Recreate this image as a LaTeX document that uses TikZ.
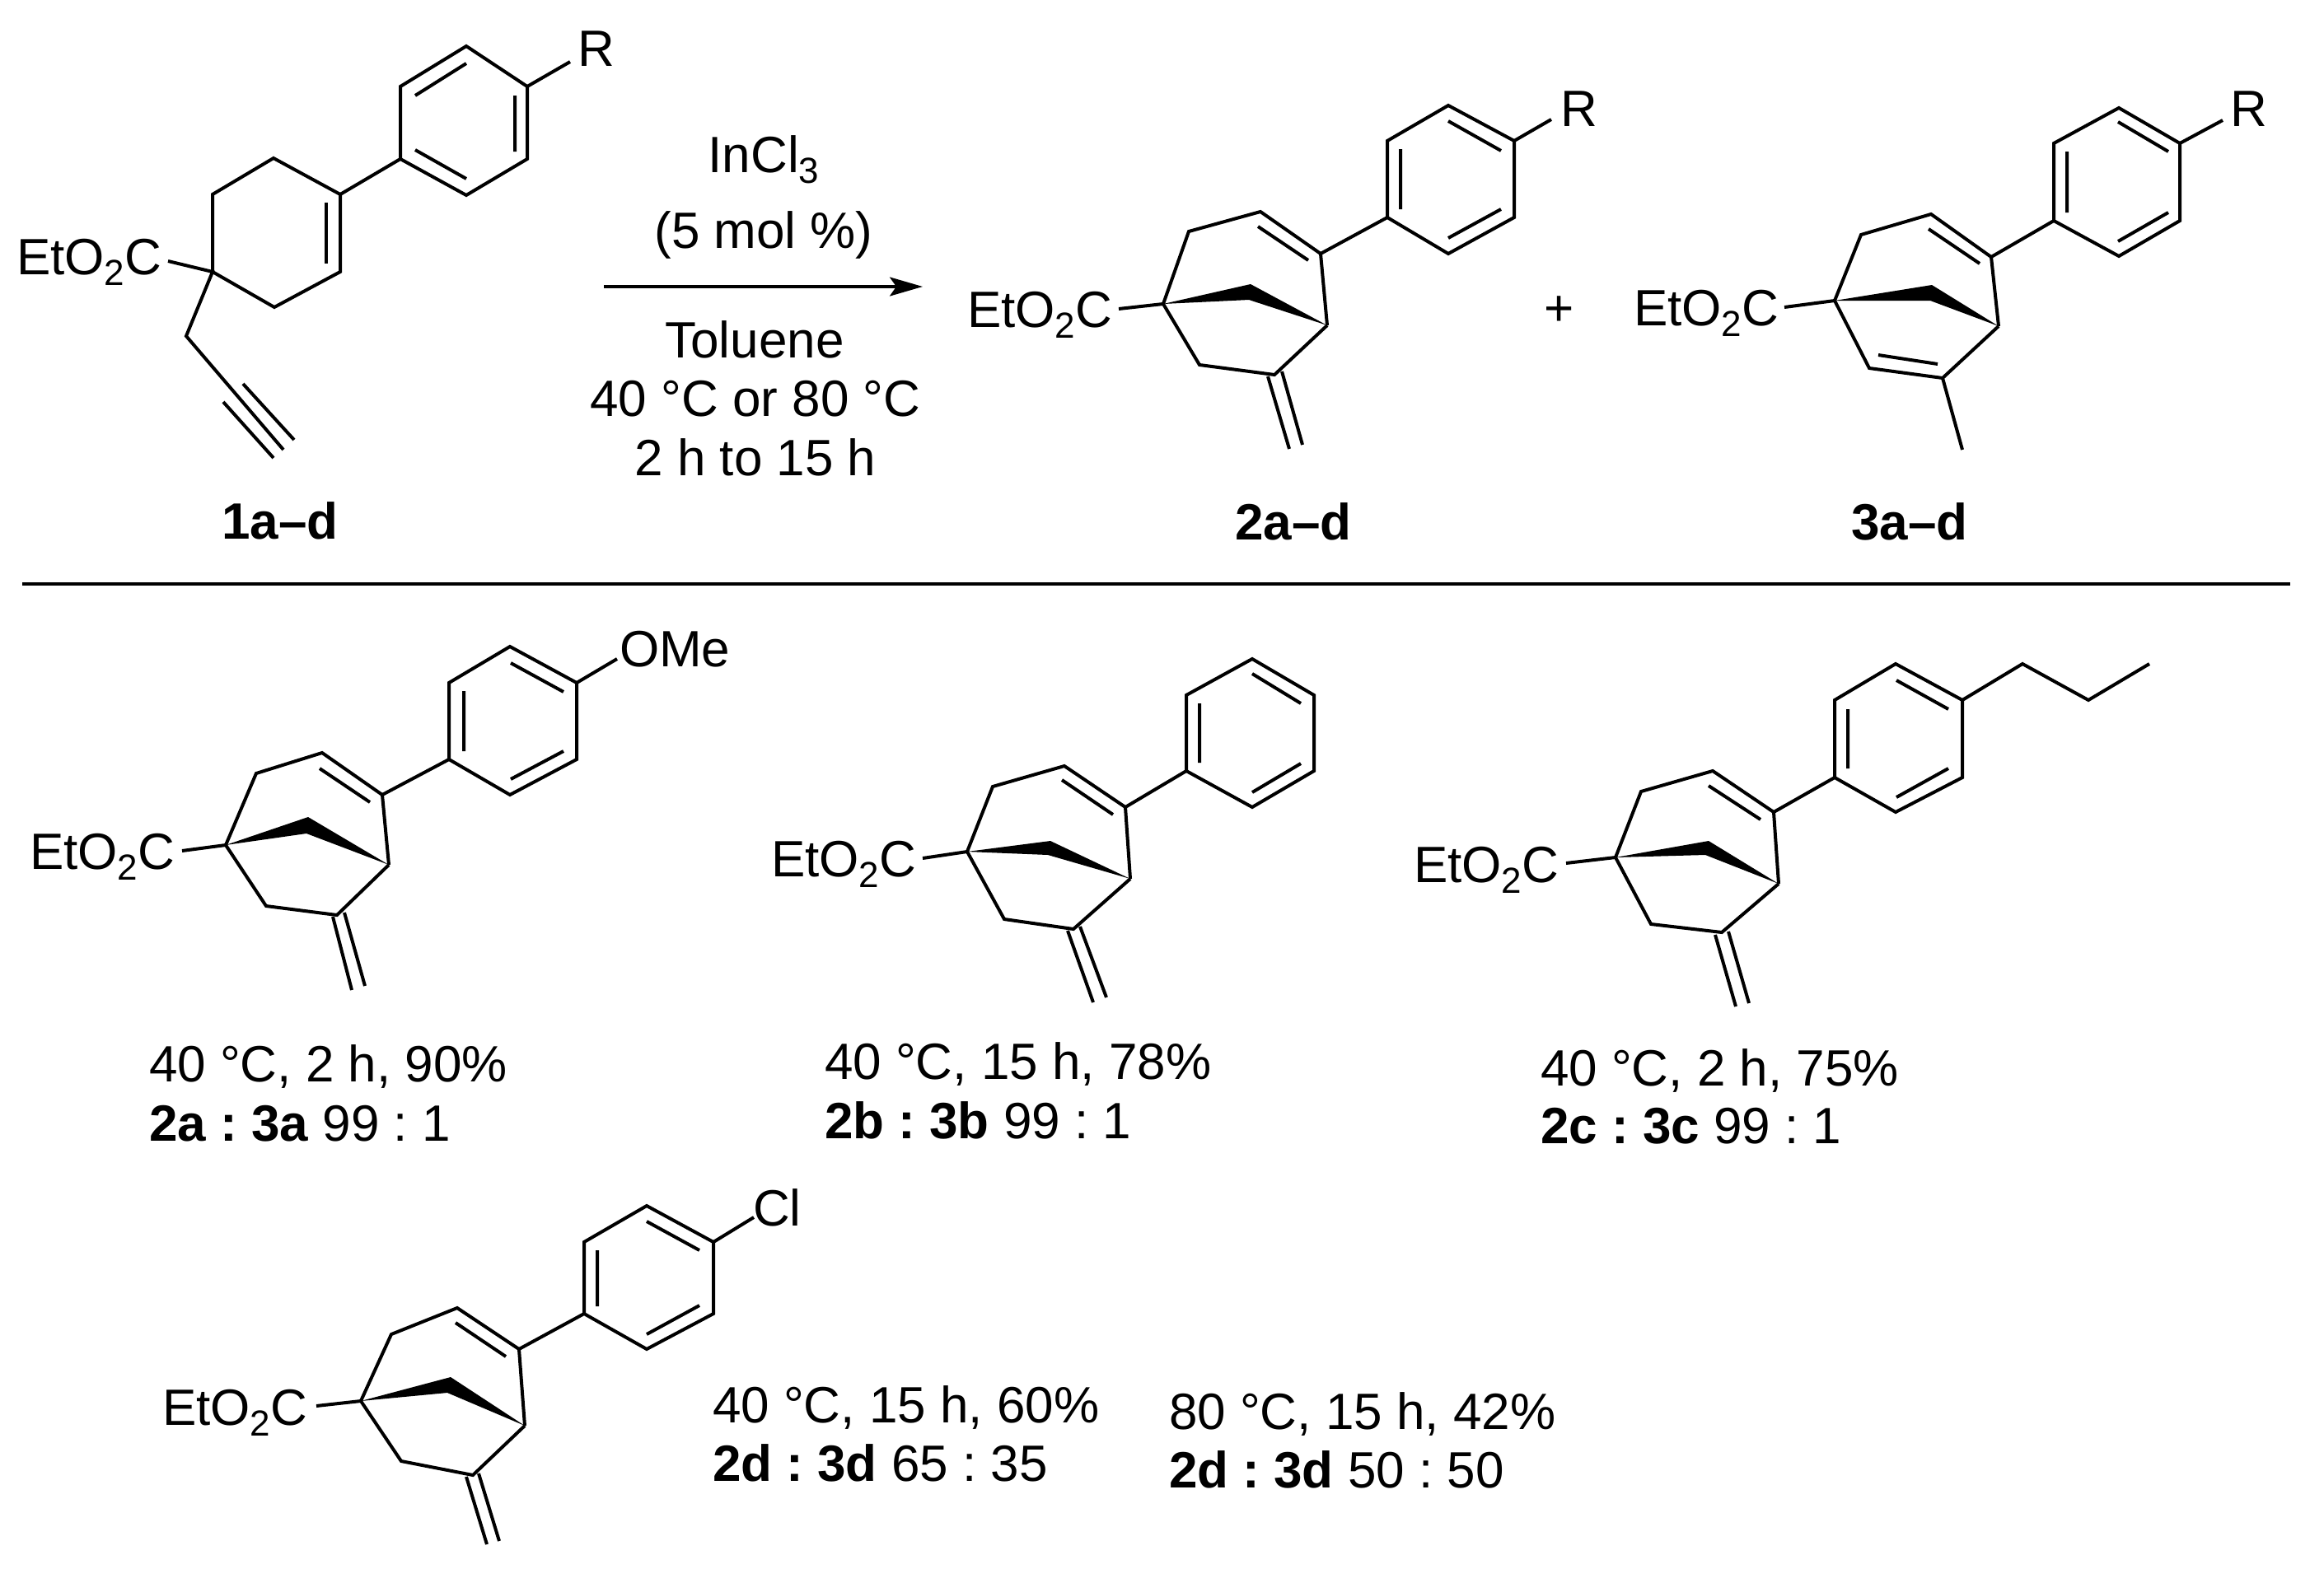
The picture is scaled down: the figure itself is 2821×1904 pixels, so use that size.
\documentclass[tikz,border=0pt]{standalone}
\usepackage{fontspec}
\setmainfont{Liberation Sans}
\usetikzlibrary{arrows.meta}
\newcommand{\subn}[1]{\raisebox{-13pt}{\fontsize{44}{44}\selectfont #1}}
\newcommand{\ester}{EtO\subn{2}C}
\frenchspacing
\tikzset{
  bond/.style={line width=4pt,line join=miter,line cap=butt,black},
  lab/.style={anchor=base west,inner sep=0pt,outer sep=0pt,font=\fontsize{62}{70}\selectfont},
  cen/.style={anchor=base,inner sep=0pt,outer sep=0pt,font=\fontsize{62}{70}\selectfont},
  cpd/.style={anchor=base,inner sep=0pt,outer sep=0pt,font=\fontsize{62}{70}\selectfont\bfseries}
}
% bicyclic skeleton: q,a,b,c,d,e,f ring atoms; t,u wedge apex points
\newcommand{\skel}[1]{%
  \fill[black] (#1q)--(#1t)--(#1d)--(#1u)--cycle;
  \draw[bond] (#1d)--(#1e)--(#1f)--(#1q)--(#1a)--(#1b)--(#1c)--(#1d);
}
% para-phenyl ring: i,o1,m1,p,m2,o2 atoms, attached at the ring atom in #2
\newcommand{\arene}[2]{%
  \draw[bond] (#2)--(#1i)--(#1o)--(#1m)--(#1p)--(#1n)--(#1k)--(#1i);
}
\begin{document}
\begin{tikzpicture}[x=1pt,y=-1pt]
\useasboundingbox (0,0) rectangle (2821,1904);

% ---------- compound 1
\path (258,330) coordinate (Aq) (258,236) coordinate (Aa) (332,192) coordinate (Ab)
      (413,236) coordinate (Ac) (413,330) coordinate (Ad) (333,373) coordinate (Ae)
      (226,408) coordinate (Ag) (344,546) coordinate (Ah) (204,317) coordinate (Ax);
\path (486,193) coordinate (Ai) (486,105) coordinate (Ao) (566,56) coordinate (Am)
      (640,105) coordinate (Ap) (640,193) coordinate (An) (566,237) coordinate (Ak)
      (692,75) coordinate (Ar);
\draw[bond] (Aq)--(Aa)--(Ab)--(Ac)--(Ad)--(Ae)--(Aq);
\draw[bond] (396,246)--(396,320);
\arene{A}{Ac}
\draw[bond] (504,116)--(566,77) (625,116)--(625,184) (504,182)--(566,217);
\draw[bond] (Ap)--(Ar) (Ax)--(Aq)--(Ag)--(Ah);
\draw[bond] (271,488)--(332,556) (295,466)--(357,534);
\node[lab] (lA) at (20,333) {\ester};
\node[lab] (rA) at (701,80) {R};
\node[cpd] (n1) at (340,654) {1a–d};

% ---------- conditions
\coordinate (arrS) at (733,348);
\coordinate (arrE) at (1120,348);
\draw[line width=3.4pt,-{Stealth[length=40pt,width=23pt,inset=8pt]}] (arrS)--(arrE);
\node[cen] (c1) at (927,209) {InCl\subn{3}};
\node[cen] (c2) at (927,301) {(5 mol \%)};
\node[cen] (c3) at (916,434) {Toluene};
\node[cen] (c4) at (917,505) {40 °C or 80 °C};
\node[cen] (c5) at (917,577) {2 h to 15 h};

% ---------- compound 2
\path (1412,369) coordinate (Bq) (1443,281) coordinate (Ba) (1530,257) coordinate (Bb)
      (1603,308) coordinate (Bc) (1611,395) coordinate (Bd) (1547,455) coordinate (Be)
      (1456,443) coordinate (Bf) (1518,345) coordinate (Bt) (1516,364) coordinate (Bu)
      (1358,375) coordinate (Bx) (1883,145) coordinate (Br);
\path (1684,264) coordinate (Bi) (1684,171) coordinate (Bo) (1758,128) coordinate (Bm)
      (1838,171) coordinate (Bp) (1838,264) coordinate (Bn) (1758,308) coordinate (Bk);
\skel{B}
\arene{B}{Bc}
\draw[bond] (1527,275)--(1588,316) (1700,181)--(1700,254) (1758,147)--(1822,183) (1758,289)--(1822,254);
\draw[bond] (Bp)--(Br) (Bx)--(Bq);
\draw[bond] (1539,457)--(1565,545) (1556,451)--(1581,540);
\node[lab] (lB) at (1174,397) {\ester};
\node[lab] (rB) at (1894,153) {R};
\node[cpd] (n2) at (1570,655) {2a–d};
\node[cen] (plus) at (1893,395) {+};

% ---------- compound 3
\path (2227,365) coordinate (Cq) (2259,285) coordinate (Ca) (2344,260) coordinate (Cb)
      (2417,312) coordinate (Cc) (2426,396) coordinate (Cd) (2358,459) coordinate (Ce)
      (2269,447) coordinate (Cf) (2345,346) coordinate (Ct) (2343,365) coordinate (Cu)
      (2166,373) coordinate (Cx) (2698,146) coordinate (Cr) (2382,546) coordinate (Cme);
\path (2493,268) coordinate (Ci) (2493,174) coordinate (Co) (2572,131) coordinate (Cm)
      (2646,174) coordinate (Cp) (2646,268) coordinate (Cn) (2572,311) coordinate (Ck);
\skel{C}
\arene{C}{Cc}
\draw[bond] (2341,278)--(2403,320) (2280,431)--(2352,442) (2509,184)--(2509,258) (2571,148)--(2632,184) (2571,293)--(2632,258);
\draw[bond] (Cp)--(Cr) (Cx)--(Cq) (Ce)--(Cme);
\node[lab] (lC) at (1983,395) {\ester};
\node[lab] (rC) at (2707,153) {R};
\node[cpd] (n3) at (2318,655) {3a–d};

% ---------- divider
\coordinate (divL) at (27,709);
\coordinate (divR) at (2780,709);
\draw[line width=3.2pt] (divL)--(divR);

% ---------- a
\path (274,1026) coordinate (Dq) (311,939) coordinate (Da) (391,914) coordinate (Db)
      (464,965) coordinate (Dc) (472,1050) coordinate (Dd) (409,1111) coordinate (De)
      (323,1100) coordinate (Df) (374,992) coordinate (Dt) (372,1012) coordinate (Du)
      (221,1033) coordinate (Dx) (749,800) coordinate (Dr);
\path (545,922) coordinate (Di) (545,829) coordinate (Do) (619,785) coordinate (Dm)
      (700,829) coordinate (Dp) (700,922) coordinate (Dn) (619,965) coordinate (Dk);
\skel{D}
\arene{D}{Dc}
\draw[bond] (388,933)--(449,974) (563,839)--(563,912) (620,805)--(684,840) (620,946)--(684,912);
\draw[bond] (Dp)--(Dr) (Dx)--(Dq);
\draw[bond] (404,1113)--(427,1202) (418,1108)--(443,1197);
\node[lab] (lD) at (36,1055) {\ester};
\node[lab] (rD) at (752,809) {OMe};
\node[lab] (t1a) at (181,1313) {40 °C, 2 h, 90\%};
\node[lab] (t1b) at (181,1385) {\textbf{2a : 3a} 99 : 1};

% ---------- b
\path (1174,1034) coordinate (Eq) (1205,955) coordinate (Ea) (1292,930) coordinate (Eb)
      (1366,980) coordinate (Ec) (1372,1067) coordinate (Ed) (1303,1128) coordinate (Ee)
      (1219,1116) coordinate (Ef) (1275,1021) coordinate (Et) (1272,1038) coordinate (Eu)
      (1120,1042) coordinate (Ex);
\path (1440,936) coordinate (Ei) (1440,844) coordinate (Eo) (1520,800) coordinate (Em)
      (1595,844) coordinate (Ep) (1595,936) coordinate (En) (1520,980) coordinate (Ek);
\skel{E}
\arene{E}{Ec}
\draw[bond] (1289,947)--(1351,989) (1456,854)--(1456,926) (1520,818)--(1579,854) (1520,962)--(1579,927);
\draw[bond] (Ex)--(Eq);
\draw[bond] (1296,1130)--(1327,1217) (1311,1125)--(1343,1211);
\node[lab] (lE) at (936,1064) {\ester};
\node[lab] (t2a) at (1001,1310) {40 °C, 15 h, 78\%};
\node[lab] (t2b) at (1001,1382) {\textbf{2b : 3b} 99 : 1};

% ---------- c
\path (1961,1041) coordinate (Fq) (1992,961) coordinate (Fa) (2079,936) coordinate (Fb)
      (2153,986) coordinate (Fc) (2159,1073) coordinate (Fd) (2090,1132) coordinate (Fe)
      (2004,1122) coordinate (Ff) (2074,1021) coordinate (Ft) (2070,1038) coordinate (Fu)
      (1901,1048) coordinate (Fx);
\path (2227,944) coordinate (Fi) (2227,850) coordinate (Fo) (2301,806) coordinate (Fm)
      (2382,850) coordinate (Fp) (2382,944) coordinate (Fn) (2301,986) coordinate (Fk)
      (2455,806) coordinate (Fy1) (2535,850) coordinate (Fy2) (2609,806) coordinate (Fy3);
\skel{F}
\arene{F}{Fc}
\draw[bond] (2074,954)--(2137,995) (2243,861)--(2243,933) (2302,826)--(2365,861) (2302,968)--(2365,933);
\draw[bond] (Fp)--(Fy1)--(Fy2)--(Fy3) (Fx)--(Fq);
\draw[bond] (2082,1135)--(2107,1222) (2098,1131)--(2123,1218);
\node[lab] (lF) at (1716,1071) {\ester};
\node[lab] (t3a) at (1870,1318) {40 °C, 2 h, 75\%};
\node[lab] (t3b) at (1870,1388) {\textbf{2c : 3c} 99 : 1};

% ---------- d
\path (438,1701) coordinate (Gq) (475,1620) coordinate (Ga) (555,1588) coordinate (Gb)
      (630,1638) coordinate (Gc) (637,1731) coordinate (Gd) (574,1791) coordinate (Ge)
      (487,1774) coordinate (Gf) (547,1672) coordinate (Gt) (543,1691) coordinate (Gu)
      (384,1707) coordinate (Gx) (915,1478) coordinate (Gr);
\path (709,1595) coordinate (Gi) (709,1508) coordinate (Go) (785,1464) coordinate (Gm)
      (866,1508) coordinate (Gp) (866,1595) coordinate (Gn) (785,1638) coordinate (Gk);
\skel{G}
\arene{G}{Gc}
\draw[bond] (553,1606)--(614,1647) (725,1518)--(725,1586) (785,1483)--(849,1518) (785,1620)--(849,1585);
\draw[bond] (Gp)--(Gr) (Gx)--(Gq);
\draw[bond] (566,1793)--(591,1875) (581,1789)--(606,1871);
\node[lab] (lG) at (197,1730) {\ester};
\node[lab] (rG) at (914,1488) {Cl};
\node[lab] (t4a) at (865,1727) {40 °C, 15 h, 60\%};
\node[lab] (t4b) at (865,1798) {\textbf{2d : 3d} 65 : 35};
\node[lab] (t5a) at (1419,1735) {80 °C, 15 h, 42\%};
\node[lab] (t5b) at (1419,1806) {\textbf{2d : 3d} 50 : 50};
\end{tikzpicture}
\end{document}
